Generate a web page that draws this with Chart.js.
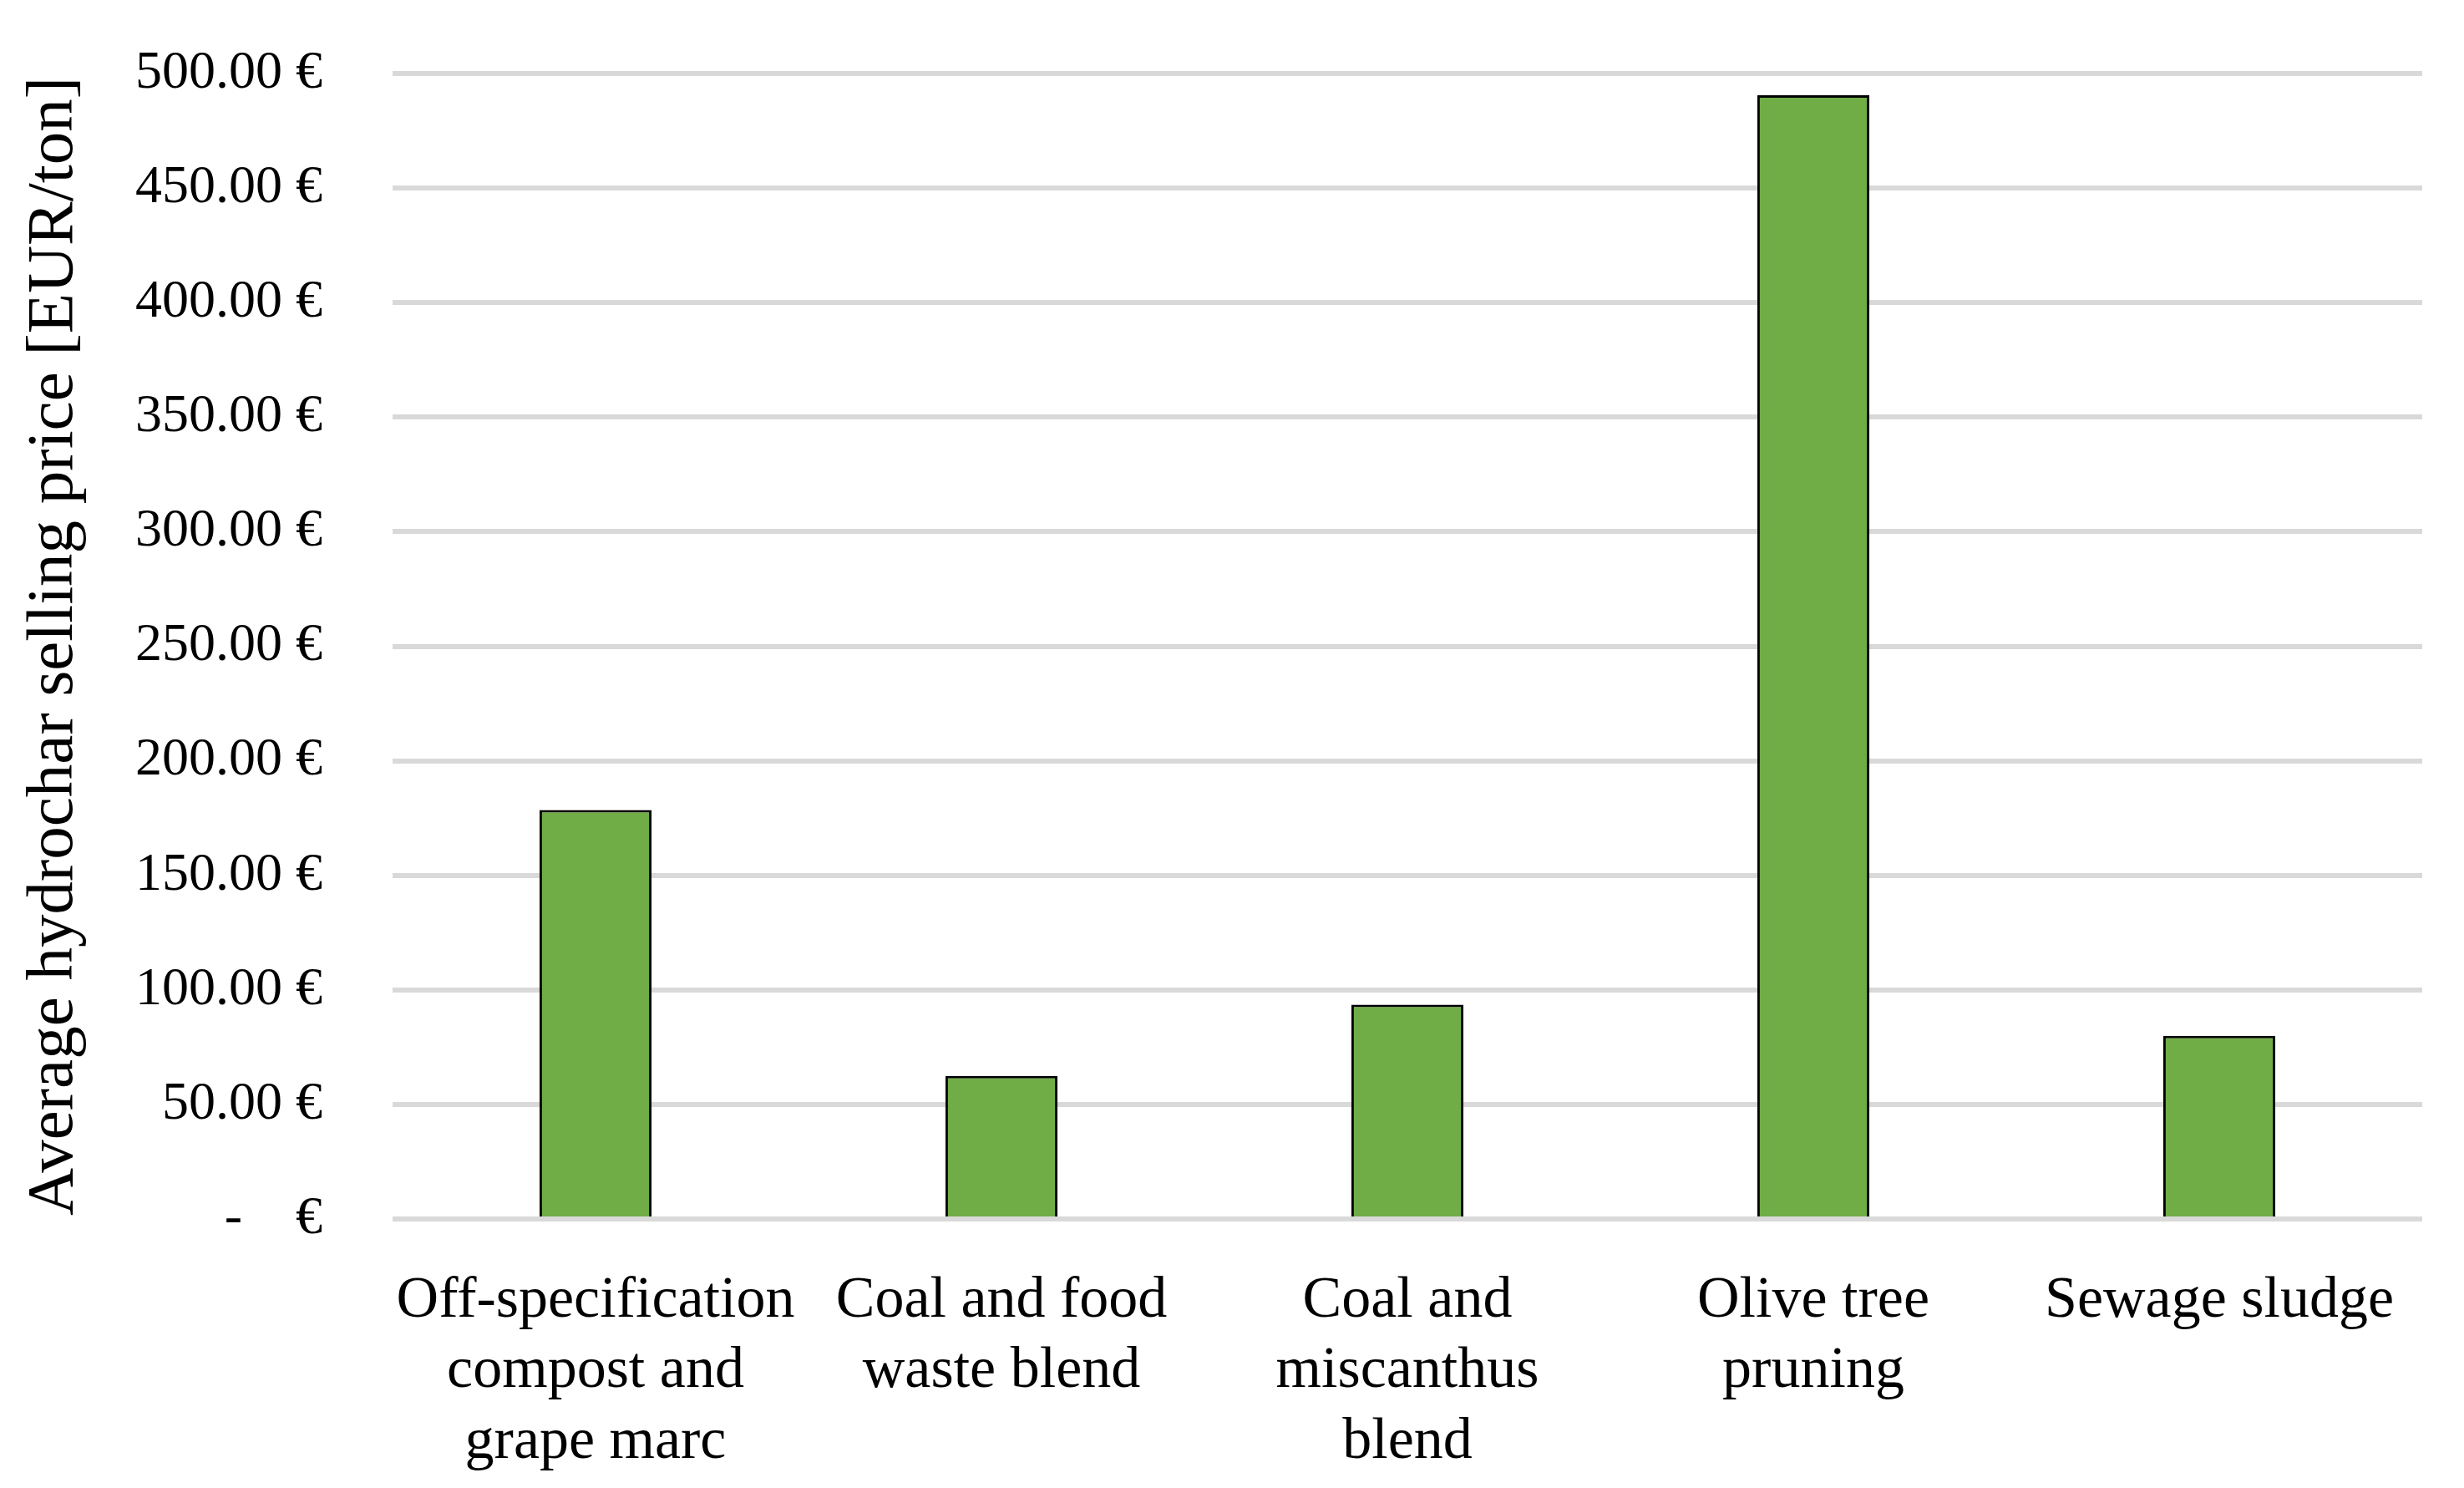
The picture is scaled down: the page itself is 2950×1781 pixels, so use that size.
<!DOCTYPE html>
<html lang="en">
<head>
    <meta charset="UTF-8">
    <title>Hydrochar selling price</title>
    <script src="https://cdn.jsdelivr.net/npm/chart.js@4"></script>
    <style>
        body{
            margin: 0;
            background: #ffffff;
        }
        .grafica{
            width: 2950px;
            height: 1781px;
        }
    </style>
</head>
<body>
    <div class="grafica">
        <canvas id="miCanvas"></canvas>
    </div>
    <script>
        // data
        const categories = [
            ["Off-specification", "compost and", "grape marc"],
            ["Coal and food", "waste blend"],
            ["Coal and", "miscanthus", "blend"],
            ["Olive tree", "pruning"],
            ["Sewage sludge"]
        ];
        const prices = [178.5, 62.5, 93.5, 490.5, 80];
        const yTicks = [0, 50, 100, 150, 200, 250, 300, 350, 400, 450, 500];

        const fuente = "'Liberation Serif', 'Times New Roman', serif";

        const ctx = document.getElementById("miCanvas").getContext("2d");
        window.miCanva = new Chart(ctx, {
            type: "bar",
            data: {
                labels: categories,
                datasets: [{
                    label: "Average hydrochar selling price",
                    data: prices,
                    backgroundColor: "#70ad47",
                    borderColor: "#000000",
                    borderWidth: 3,
                    barPercentage: 0.276,
                    categoryPercentage: 1
                }]
            },
            options: {
                responsive: true,
                maintainAspectRatio: false,
                animation: false,
                layout: {
                    padding: {top: 88, right: 50, bottom: 0, left: 18}
                },
                plugins: {
                    legend: {display: false},
                    tooltip: {enabled: false}
                },
                scales: {
                    x: {
                        grid: {display: false},
                        border: {display: false},
                        ticks: {
                            color: "#000000",
                            font: {family: fuente, size: 70, lineHeight: 1.21},
                            padding: 48,
                            maxRotation: 0,
                            minRotation: 0
                        },
                        afterFit: (scale) => { scale.height = 322; }
                    },
                    y: {
                        min: 0,
                        max: 500,
                        afterBuildTicks: (scale) => {
                            scale.ticks = yTicks.map(v => ({value: v}));
                        },
                        grid: {
                            color: "#d9d9d9",
                            lineWidth: 6,
                            drawTicks: false
                        },
                        border: {display: false},
                        ticks: {
                            color: "#000000",
                            font: {family: fuente, size: 64},
                            padding: 84,
                            callback: (v) => v === 0 ? "-    €" : v.toFixed(2) + " €"
                        },
                        title: {
                            display: true,
                            text: "Average hydrochar selling price [EUR/ton]",
                            color: "#000000",
                            font: {family: fuente, size: 79, weight: "normal"},
                            padding: {top: 0, bottom: 0}
                        },
                        afterFit: (scale) => {
                            scale.width = 452;
                            scale.paddingTop = 0;
                        }
                    }
                }
            }
        });
    </script>
</body>
</html>
